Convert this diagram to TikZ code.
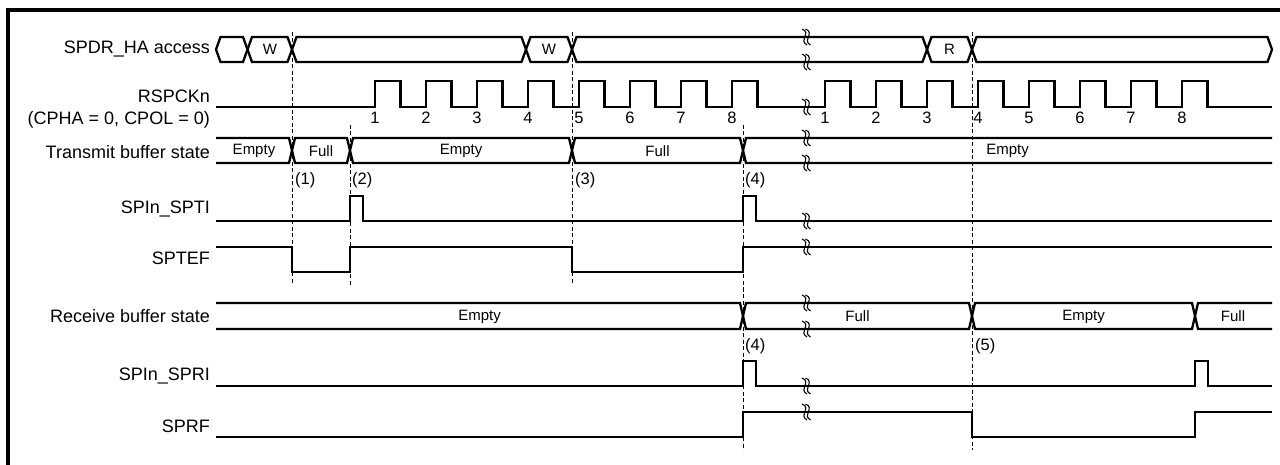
\documentclass[tikz,border=0pt]{standalone}
\usepackage{fontspec}
\setmainfont{Liberation Sans}
\usetikzlibrary{calc}

\tikzset{
  sig/.style={line width=2.3pt, line join=miter},
  guide/.style={line width=1pt, dash pattern=on 4pt off 2.5pt},
  lbl/.style={anchor=east, inner sep=0pt, font=\fontsize{18}{21}\selectfont},
  bustext/.style={inner sep=0pt, font=\fontsize{15}{18}\selectfont},
  num/.style={inner sep=0pt, font=\fontsize{16.5}{19}\selectfont},
  marker/.style={anchor=west, inner sep=0pt, font=\fontsize{16.5}{19}\selectfont},
  brk/.pic={
    \draw[line width=1.1pt] (-3,-8) .. controls (7,-4) and (-7,3) .. (2,8);
    \draw[line width=1.1pt] (0.5,-8) .. controls (10.5,-4) and (-3.5,3) .. (5.5,8);
  }
}

\begin{document}
\begin{tikzpicture}[x=1pt, y=-1pt]
        \useasboundingbox (0,0) rectangle (1280,465);
        \draw[line width=3.3pt] (8,467) -- (8,10) -- (1282,10);

        % signal names
        \node[lbl] (spdr) at (210,49) {SPDR\_HA access};
        \node[lbl] (clk) at (210,96) {RSPCKn};
        \node[lbl] (cpha) at (210,120) {(CPHA = 0, CPOL = 0)};
        \node[lbl] (txbuf) at (210,152) {Transmit buffer state};
        \node[lbl] (spti) at (210,209) {SPIn\_SPTI};
        \node[lbl] (sptef) at (210,258) {SPTEF};
        \node[lbl] (rxbuf) at (210,316) {Receive buffer state};
        \node[lbl] (spri) at (210,376) {SPIn\_SPRI};
        \node[lbl] (sprf) at (210,426) {SPRF};

        % timing guides
        \draw[guide] (292,32) -- (292,285);
        \draw[guide] (350,125) -- (350,285);
        \draw[guide] (572,32) -- (572,285);
        \draw[guide] (743,125) -- (743,450);
        \draw[guide] (972,32) -- (972,450);

        % SPDR_HA access bus
        \foreach \a/\b in {216/247.5, 247.5/292, 292/526, 526/572, 572/927, 927/972, 972/1272}
          \draw[sig] (\a,49.5) -- (\a+4.5,37) -- (\b-4.5,37) -- (\b,49.5) -- (\b-4.5,62) -- (\a+4.5,62) -- cycle;
        \node[bustext] (w1) at (270,49.5) {W};
        \node[bustext] (w2) at (549,49.5) {W};
        \node[bustext] (r1) at (949.5,49.5) {R};

        % RSPCKn
        \draw[sig] (216,107) foreach \r in {375,426,...,732} { -- (\r,107) -- (\r,81) -- (\r+25.5,81) -- (\r+25.5,107) }
          foreach \r in {825,876,...,1182} { -- (\r,107) -- (\r,81) -- (\r+25.5,81) -- (\r+25.5,107) } -- (1272,107);
        \foreach \i in {1,...,8} {
          \node[num] (ca\i) at ({324+51*\i},118) {\i};
          \node[num] (cb\i) at ({774+51*\i},118) {\i};
        }

        % transmit buffer
        \draw[sig] (216,138) -- (289,138) -- (292,150.5) -- (289,163) -- (216,163);
        \foreach \a/\b in {292/350, 350/572, 572/743}
          \draw[sig] (\a,150.5) -- (\a+3,138) -- (\b-3,138) -- (\b,150.5) -- (\b-3,163) -- (\a+3,163) -- cycle;
        \draw[sig] (1272,138) -- (746,138) -- (743,150.5) -- (746,163) -- (1272,163);
        \node[bustext] (te1) at (254,151) {Empty};
        \node[bustext] (tf1) at (321,151) {Full};
        \node[bustext] (te2) at (461,151) {Empty};
        \node[bustext] (tf2) at (657.5,151) {Full};
        \node[bustext] (te3) at (1007.5,151) {Empty};

        \node[marker] (m1) at (295,180) {(1)};
        \node[marker] (m2) at (352,180) {(2)};
        \node[marker] (m3) at (575,180) {(3)};
        \node[marker] (m4) at (745,180) {(4)};

        % SPIn_SPTI / SPTEF
        \draw[sig] (216,221) -- (350,221) -- (350,196) -- (363,196) -- (363,221) -- (743,221) -- (743,196) -- (756,196) -- (756,221) -- (1272,221);
        \draw[sig] (216,247) -- (292,247) -- (292,272) -- (350,272) -- (350,247) -- (572,247) -- (572,272) -- (743,272) -- (743,247) -- (1272,247);

        % receive buffer
        \draw[sig] (216,303) -- (740,303) -- (743,316) -- (740,329) -- (216,329);
        \foreach \a/\b in {743/972, 972/1195}
          \draw[sig] (\a,316) -- (\a+3,303) -- (\b-3,303) -- (\b,316) -- (\b-3,329) -- (\a+3,329) -- cycle;
        \draw[sig] (1272,303) -- (1198,303) -- (1195,316) -- (1198,329) -- (1272,329);
        \node[bustext] (re1) at (479.5,316.5) {Empty};
        \node[bustext] (rf1) at (857.5,316.5) {Full};
        \node[bustext] (re2) at (1083.5,316.5) {Empty};
        \node[bustext] (rf2) at (1233,316.5) {Full};

        \node[marker] (m4b) at (745,346) {(4)};
        \node[marker] (m5) at (975,346) {(5)};

        % SPIn_SPRI / SPRF
        \draw[sig] (216,386) -- (743,386) -- (743,361) -- (756,361) -- (756,386) -- (1195,386) -- (1195,361) -- (1208,361) -- (1208,386) -- (1272,386);
        \draw[sig] (216,437) -- (743,437) -- (743,412) -- (972,412) -- (972,437) -- (1195,437) -- (1195,412) -- (1272,412);

        % time breaks
        \foreach \y in {37,62,107,138,163,221,247,303,329,386,412}
          \pic at (805,\y) {brk};
      \end{tikzpicture}
\end{document}
